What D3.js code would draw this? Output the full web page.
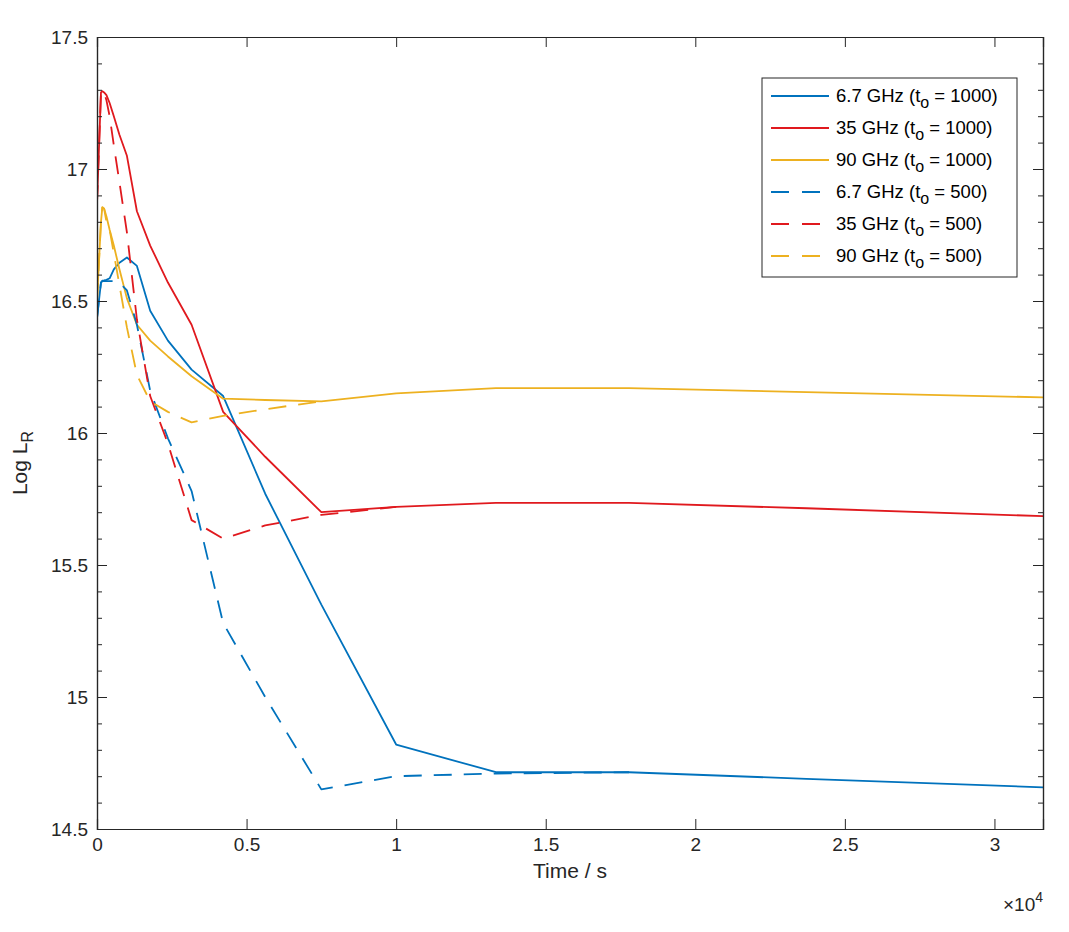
<!DOCTYPE html>
<html>
<head>
<meta charset="utf-8">
<script src="https://cdn.jsdelivr.net/npm/d3@7"></script>
<style>
  html, body { margin: 0; padding: 0; background: #fff; }
  svg { display: block; font-family: "Liberation Sans", Arial, Helvetica, sans-serif; }
</style>
</head>
<body>
<svg id="chart" width="1069" height="932"></svg>
<script>
// ---- data ----
const time = [0, 133, 178, 237, 316, 422, 562, 750, 1000, 1334, 1778, 2371, 3162, 4217, 5623, 7499, 10000, 13335, 17783, 23714, 31623];

const blue1000   = [16.435, 16.57, 16.577, 16.578, 16.58, 16.586, 16.62, 16.645, 16.665, 16.633, 16.463, 16.35, 16.24, 16.14, 15.77, 15.35, 14.82, 14.715, 14.715, 14.69, 14.658];
const red1000    = [16.87, 17.29, 17.295, 17.29, 17.28, 17.25, 17.2, 17.13, 17.05, 16.84, 16.71, 16.57, 16.41, 16.08, 15.91, 15.70, 15.72, 15.735, 15.735, 15.715, 15.685];
const yellow1000 = [16.50, 16.80, 16.855, 16.85, 16.82, 16.77, 16.71, 16.62, 16.51, 16.41, 16.35, 16.29, 16.215, 16.13, 16.125, 16.12, 16.15, 16.17, 16.17, 16.155, 16.135];

const blue500    = [16.435, 16.57, 16.575, 16.575, 16.575, 16.575, 16.575, 16.57, 16.54, 16.41, 16.16, 15.98, 15.78, 15.28, 15.00, 14.65, 14.70, 14.71, 14.715];
const red500     = [16.87, 17.29, 17.295, 17.29, 17.26, 17.2, 17.09, 16.95, 16.76, 16.43, 16.14, 15.96, 15.67, 15.60, 15.65, 15.69, 15.72];
const yellow500  = [16.50, 16.80, 16.855, 16.85, 16.80, 16.77, 16.68, 16.56, 16.40, 16.22, 16.12, 16.08, 16.04, 16.065, 16.09, 16.12];

const seriesNames = ["6.7 GHz", "35 GHz", "90 GHz", "6.7 GHz", "35 GHz", "90 GHz"];
const seriesT0    = ["1000", "1000", "1000", "500", "500", "500"];

const xTicks = [0, 5000, 10000, 15000, 20000, 25000, 30000];
const yTicks = [14.5, 15, 15.5, 16, 16.5, 17, 17.5];

// ---- layout ----
const svg = d3.select("#chart");
const pL = 97, pR = 1043, pT = 37, pB = 829;
const x = d3.scaleLinear().domain([0, 31623]).range([pL, pR]);
const y = d3.scaleLinear().domain([14.5, 17.5]).range([pB, pT]);

const colors = ["#0072BD", "#E0191E", "#EDB120"];
const dashPat = "18,12";
const series = [
  { v: blue1000, c: colors[0], dash: null },
  { v: red1000, c: colors[1], dash: null },
  { v: yellow1000, c: colors[2], dash: null },
  { v: blue500, c: colors[0], dash: dashPat },
  { v: red500, c: colors[1], dash: dashPat },
  { v: yellow500, c: colors[2], dash: dashPat }
];

svg.append("rect").attr("width", 1069).attr("height", 932).attr("fill", "#fff");

svg.append("clipPath").attr("id", "clip")
  .append("rect").attr("x", pL).attr("y", pT).attr("width", pR - pL).attr("height", pB - pT);

const line = d3.line().x((d, i) => x(time[i])).y(d => y(d));
const g = svg.append("g").attr("clip-path", "url(#clip)");
series.forEach(s => {
  g.append("path").datum(s.v)
    .attr("d", line)
    .attr("fill", "none")
    .attr("stroke", s.c)
    .attr("stroke-width", 1.8)
    .attr("stroke-linejoin", "round")
    .attr("stroke-dasharray", s.dash);
});

// ---- axes ----
const minorY = d3.range(0, 31).map(i => +(14.5 + i * 0.1).toFixed(1));
const fmtY = d => String(d);

function styleAxis(sel) {
  sel.select(".domain").attr("stroke", "#262626").attr("stroke-width", 1.2);
  sel.selectAll(".tick line").attr("stroke", "#262626").attr("stroke-width", 1);
  sel.selectAll(".tick text").attr("fill", "#262626").attr("font-size", 19)
    .attr("font-family", "Liberation Sans, Arial, sans-serif");
}

svg.append("g").attr("transform", `translate(${pL},0)`)
  .call(d3.axisLeft(y).tickValues(minorY).tickSize(-5).tickFormat(""))
  .call(styleAxis);
svg.append("g").attr("transform", `translate(${pL},0)`)
  .call(d3.axisLeft(y).tickValues(yTicks).tickSize(-10).tickPadding(9).tickFormat(fmtY))
  .call(styleAxis);
svg.append("g").attr("transform", `translate(${pR},0)`)
  .call(d3.axisRight(y).tickValues(minorY).tickSize(-5).tickFormat(""))
  .call(styleAxis);
svg.append("g").attr("transform", `translate(${pR},0)`)
  .call(d3.axisRight(y).tickValues(yTicks).tickSize(-10).tickFormat(""))
  .call(styleAxis);
svg.append("g").attr("transform", `translate(0,${pB})`)
  .call(d3.axisBottom(x).tickValues(xTicks).tickSize(-10).tickPadding(9).tickFormat(d => String(d / 10000)))
  .call(styleAxis);
svg.append("g").attr("transform", `translate(0,${pT})`)
  .call(d3.axisTop(x).tickValues(xTicks).tickSize(-10).tickFormat(""))
  .call(styleAxis);

// axis labels
svg.append("text").attr("x", (pL + pR) / 2).attr("y", 878)
  .attr("text-anchor", "middle").attr("font-size", 21).attr("fill", "#262626")
  .text("Time / s");

const ex = svg.append("text").attr("x", 1043).attr("y", 911).attr("text-anchor", "end")
  .attr("font-size", 19).attr("fill", "#262626");
ex.append("tspan").text("\u00d710");
ex.append("tspan").attr("dy", -9).attr("font-size", 14).text("4");

const yl = svg.append("text").attr("transform", "translate(27,463) rotate(-90)")
  .attr("text-anchor", "middle").attr("font-size", 21).attr("fill", "#262626");
yl.append("tspan").text("Log L");
yl.append("tspan").attr("dy", 6).attr("font-size", 16).text("R");

// ---- legend ----
const lg = svg.append("g");
lg.append("rect").attr("x", 762).attr("y", 78).attr("width", 255).attr("height", 199)
  .attr("fill", "#fff").attr("stroke", "#262626").attr("stroke-width", 1);
series.forEach((s, i) => {
  const ly = 96 + i * 32;
  lg.append("line").attr("x1", 771).attr("x2", 829).attr("y1", ly).attr("y2", ly)
    .attr("stroke", s.c).attr("stroke-width", 1.8)
    .attr("stroke-dasharray", s.dash ? "18,13" : null);
  const t = lg.append("text").attr("x", 836).attr("y", ly + 6).attr("font-size", 18.5).attr("fill", "#000");
  t.append("tspan").text(seriesNames[i] + " (t");
  t.append("tspan").attr("dy", 6).attr("font-size", 16).text("o");
  t.append("tspan").attr("dy", -6).text(" = " + seriesT0[i] + ")");
});
</script>
</body>
</html>
